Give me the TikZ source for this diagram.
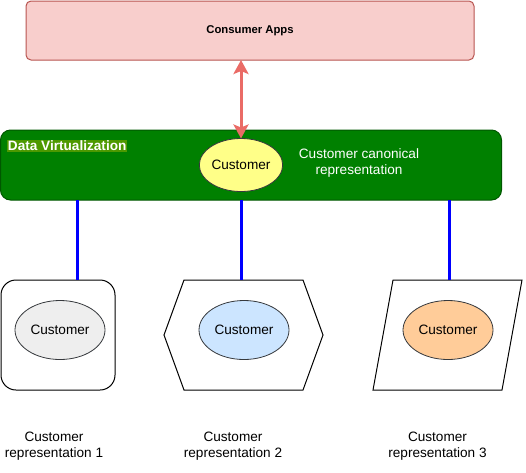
\documentclass[tikz,border=0pt]{standalone}
\usepackage{fontspec}
\setmainfont{Liberation Sans}
\usetikzlibrary{arrows.meta,shapes.geometric}
\definecolor{appsfill}{HTML}{F8CECC}
\definecolor{appsline}{HTML}{B85450}
\definecolor{dvfill}{HTML}{008000}
\definecolor{dvline}{HTML}{005700}
\definecolor{tagfill}{HTML}{4D9900}
\definecolor{arrowred}{HTML}{EA6B66}
\definecolor{ovalline}{HTML}{36393D}
\definecolor{yellowfill}{HTML}{FFFF88}
\definecolor{greyfill}{HTML}{EEEEEE}
\definecolor{bluefill}{HTML}{CCE5FF}
\definecolor{orangefill}{HTML}{FFCC99}
\begin{document}
\begin{tikzpicture}[x=1pt, y=-1pt, line join=miter,
	every node/.style={inner sep=0pt, outer sep=0pt, font=\fontsize{13.6}{16}\selectfont},
	oval/.style={ellipse, draw=ovalline, line width=0.8pt, minimum width=90, minimum height=59},
	caption/.style={align=center},
	link/.style={blue, line width=3pt}]
	\useasboundingbox (0, 0) rectangle (526, 472);

	% Consumer Apps
	\node[draw=appsline, fill=appsfill, line width=1pt, rounded corners=5, minimum width=448, minimum height=59, font=\fontsize{11.3}{13}\selectfont\bfseries] (apps) at (250, 30.5) {Consumer Apps};

	% Data Virtualization
	\node[draw=dvline, fill=dvfill, line width=1pt, rounded corners=10, minimum width=501, minimum height=70] (dv) at (251, 165) {};
	\node[fill=tagfill, text=white, inner sep=1pt, anchor=west, font=\fontsize{13.6}{16}\selectfont\bfseries] (dvtag) at (7, 146) {Data Virtualization};
	\node[oval, fill=yellowfill, minimum width=82, minimum height=53] (canon) at (241, 165) {Customer};
	\node[caption, text=white] (canontext) at (359, 163) {Customer canonical\\representation};
	\draw[{Stealth[length=14, width=15, inset=3]}-{Stealth[length=14, width=15, inset=3]}, arrowred, line width=3pt] (apps.south -| canon.north) -- (canon.north);

	% Sources
	\node[draw, line width=1pt, rounded corners=15, minimum width=114, minimum height=110] (repA) at (58, 335) {};
	\draw[line width=1pt] (184, 280) -- (303, 280) -- (323, 335) -- (303, 390) -- (184, 390) -- (164, 335) -- cycle;
	\draw[line width=1pt] (393, 280) -- (522, 280) -- (502, 390) -- (373, 390) -- cycle;
	\coordinate (topA) at (77, 280);
	\coordinate (topB) at (241, 280);
	\coordinate (topC) at (449, 280);
	\node[oval, fill=greyfill] (custA) at (60, 330) {Customer};
	\node[oval, fill=bluefill] (custB) at (244, 330) {Customer};
	\node[oval, fill=orangefill] (custC) at (448, 330) {Customer};
	\draw[link] (dv.south -| topA) -- (topA);
	\draw[link] (dv.south -| topB) -- (topB);
	\draw[link] (dv.south -| topC) -- (topC);

	% Labels
	\node[caption] (capA) at (54, 446) {Customer\\representation 1};
	\node[caption] (capB) at (233, 446) {Customer\\representation 2};
	\node[caption] (capC) at (437.5, 446) {Customer\\representation 3};
\end{tikzpicture}
\end{document}
